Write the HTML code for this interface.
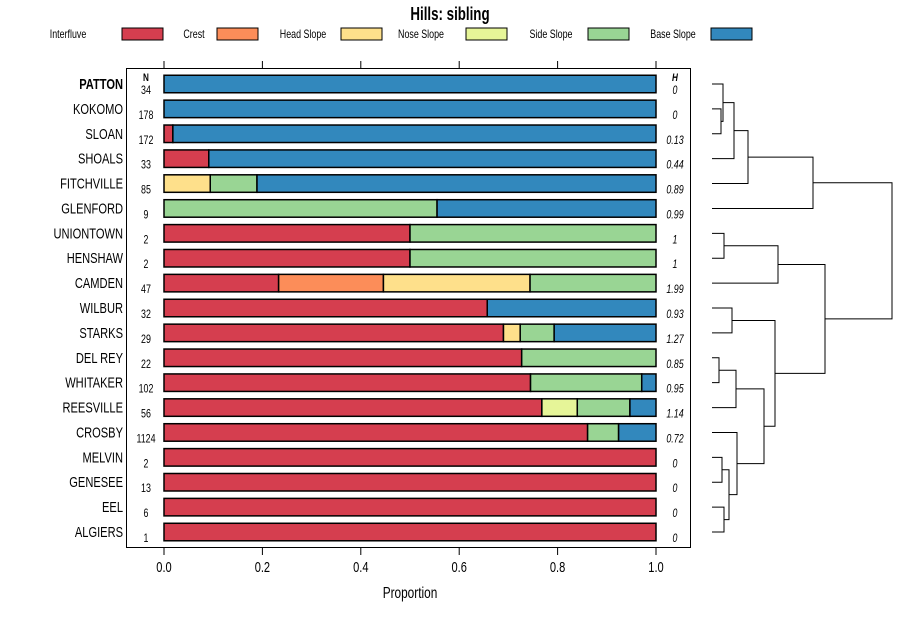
<!DOCTYPE html>
<html><head><meta charset="utf-8"><style>
body{margin:0;background:#fff;font-family:"Liberation Sans",sans-serif}
</style></head><body>
<svg id="c" width="900" height="620" xmlns="http://www.w3.org/2000/svg" font-family="Liberation Sans, sans-serif"></svg>
<script>
const soils=["PATTON","KOKOMO","SLOAN","SHOALS","FITCHVILLE","GLENFORD","UNIONTOWN","HENSHAW","CAMDEN","WILBUR","STARKS","DEL REY","WHITAKER","REESVILLE","CROSBY","MELVIN","GENESEE","EEL","ALGIERS"];
const nVals=[34,178,172,33,85,9,2,2,47,32,29,22,102,56,1124,2,13,6,1];
const hVals=["0","0","0.13","0.44","0.89","0.99","1","1","1.99","0.93","1.27","0.85","0.95","1.14","0.72","0","0","0","0"];
const classes=["Interfluve","Crest","Head Slope","Nose Slope","Side Slope","Base Slope"];
const colors=["#D53E4F","#FC8D59","#FEE08B","#E6F598","#99D594","#3288BD"];
const interfluve=[0,0,0.018,0.091,0,0,0.5,0.5,0.233,0.657,0.69,0.727,0.745,0.768,0.861,1,1,1,1];
const crest=[0,0,0,0,0,0,0,0,0.213,0,0,0,0,0,0,0,0,0,0];
const headSlope=[0,0,0,0,0.094,0,0,0,0.298,0,0.034,0,0,0,0,0,0,0,0];
const noseSlope=[0,0,0,0,0,0,0,0,0,0,0,0,0,0.072,0,0,0,0,0];
const sideSlope=[0,0,0,0,0.095,0.555,0.5,0.5,0.256,0,0.069,0.273,0.226,0.107,0.063,0,0,0,0];
const baseSlope=[1,1,0.982,0.909,0.811,0.445,0,0,0,0.343,0.207,0,0.029,0.053,0.076,0,0,0,0];
const xTicks=[0,0.2,0.4,0.6,0.8,1.0];
const xTickLabels=["0.0","0.2","0.4","0.6","0.8","1.0"];
const merges=[[-2,-3,0.09],[-1,1,0.11],[2,-4,0.22],[3,-5,0.36],[4,-6,1.01],
[-7,-8,0.12],[6,-9,0.66],[-10,-11,0.2],[-12,-13,0.07],[9,-14,0.24],[-16,-17,0.1],[-18,-19,0.12],[11,12,0.17],[-15,13,0.25],[10,14,0.52],[8,15,0.63],[7,16,1.13],[5,17,1.8]];

const svg=document.getElementById('c');const NS="http://www.w3.org/2000/svg";
function mk(t,a,p){const e=document.createElementNS(NS,t);for(const k in a)e.setAttribute(k,a[k]);(p||svg).appendChild(e);return e;}
const x0=164,x1=656;const X=v=>x0+(x1-x0)*v;
const Y=i=>84+i*24.89;
const bh=17.5;
let t=mk('text',{x:450,y:20,'text-anchor':'middle','font-size':18,'font-weight':'bold'});t.textContent="Hills: sibling";


const legX=[[68,122],[194,217],[303,341],[421,466],[551,588],[673,711]];
classes.forEach((c,i)=>{
 const g=mk('g',{});
 
 
 const tx=mk('text',{x:legX[i][0],y:38,'text-anchor':'middle','font-size':12},g);tx.textContent=c;
 mk('rect',{x:legX[i][1],y:28,width:41,height:12,fill:colors[i],stroke:'#000','stroke-width':1},g);
});
const box=mk('rect',{x:126.5,y:68.5,width:564,height:479,fill:'none',stroke:'#000','stroke-width':1});


xTicks.forEach((v,i)=>{
 mk('line',{x1:X(v),x2:X(v),y1:61,y2:68,stroke:'#000'});
 mk('line',{x1:X(v),x2:X(v),y1:548,y2:555,stroke:'#000'});
 const l=mk('text',{x:X(v),y:572,'text-anchor':'middle','font-size':15});l.textContent=xTickLabels[i];
 
 
});
t=mk('text',{x:410,y:598,'text-anchor':'middle','font-size':16});t.textContent="Proportion";


t=mk('text',{x:146,y:81,'text-anchor':'middle','font-size':11,'font-weight':'bold'});t.textContent="N";
t=mk('text',{x:675,y:81,'text-anchor':'middle','font-size':11,'font-weight':'bold','font-style':'italic'});t.textContent="H";
const series=[interfluve,crest,headSlope,noseSlope,sideSlope,baseSlope];
soils.forEach((s,i)=>{
 const y=Y(i);
 const l=mk('text',{x:123,y:y+5,'text-anchor':'end','font-size':15,'font-weight':i==0?'bold':'normal'});l.textContent=s;
 
 
 const n=mk('text',{x:146,y:y+10,'text-anchor':'middle','font-size':12});n.textContent=nVals[i];
 
 
 const h=mk('text',{x:675,y:y+10,'text-anchor':'middle','font-size':12,'font-style':'italic'});h.textContent=hVals[i];
 
 
 let cum=0;
 series.forEach((ser,k)=>{
  const v=ser[i];if(v<=0)return;
  const r=mk('rect',{x:X(cum),y:y-bh/2,width:X(cum+v)-X(cum),height:bh,fill:colors[k],stroke:'#000','stroke-width':1.5});
  
  
  cum+=v;
 });
});
const dx0=712,dScale=100;const DX=h=>dx0+h*dScale;
const pos=[];
function node(id){if(id<0)return {y:Y(-id-1),h:0};return pos[id-1];}
merges.forEach((m,j)=>{
 const a=node(m[0]),b=node(m[1]);const hx=DX(m[2]);
 const p=mk('path',{d:`M${DX(a.h)},${a.y}H${hx}V${b.y}H${DX(b.h)}`,fill:'none',stroke:'#000','stroke-width':1});
 
 
 pos[j]={y:(a.y+b.y)/2,h:m[2]};
});
svg.querySelectorAll('text').forEach(el=>{
 const w=el.getComputedTextLength();
 if(w>0){el.setAttribute('textLength',(w*0.74).toFixed(1));el.setAttribute('lengthAdjust','spacingAndGlyphs');}
});
</script>
</body></html>
